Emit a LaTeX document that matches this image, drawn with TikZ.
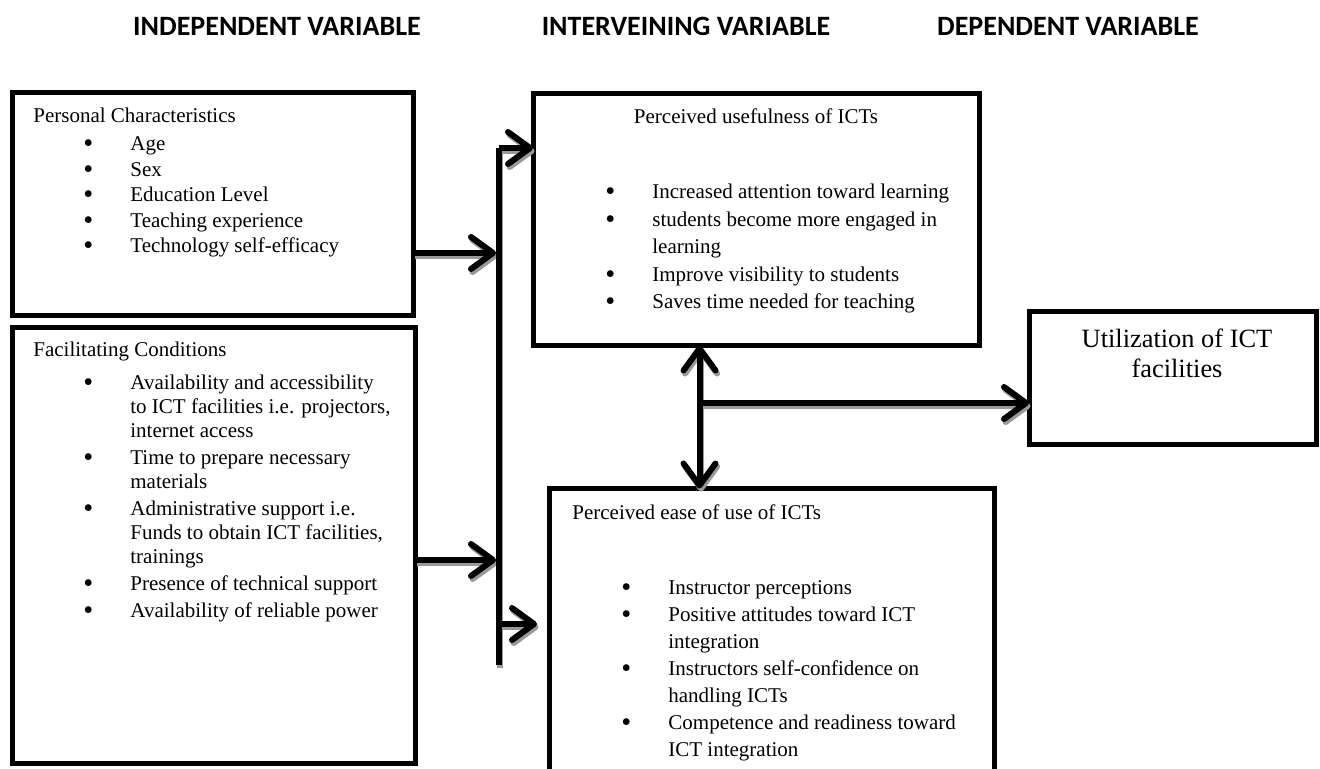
\documentclass[tikz,border=0pt]{standalone}
\usepackage{fontspec}
\setmainfont{Liberation Serif}
\newfontfamily\headfont{Carlito}
\usetikzlibrary{arrows.meta}
\newcommand{\bl}[1]{\makebox[23.5pt][l]{\raisebox{-1pt}{\scalebox{1.35}{\textbullet}}}#1}
\newcommand{\cl}[1]{\hspace*{23.5pt}#1}

\begin{document}
\begin{tikzpicture}[x=0.5pt, y=-0.5pt,
    box/.style={draw, line width=2.5pt, inner sep=0pt, outer sep=0pt},
    hd/.style={font=\headfont\bfseries\fontsize{14}{16}\selectfont, anchor=base, inner sep=0pt},
    txt/.style={font=\fontsize{10.5}{12.8}\selectfont, align=left, anchor=base west, inner sep=0pt},
    barln/.style={line width=3pt},
    arr/.style={line width=3pt, -{Straight Barb[length=11pt, width=16pt, round]}},
    darr/.style={line width=3pt, {Straight Barb[length=11pt, width=16pt, round]}-{Straight Barb[length=11pt, width=16pt, round]}}]
    \useasboundingbox (0,0) rectangle (1320,769);
    \fill[white] (0,0) rectangle (1320,769);
    \clip (0,0) rectangle (1320,769);

    \node[hd] (h1) at (277,36) {INDEPENDENT VARIABLE};
    \node[hd] (h2) at (686,36) {INTERVEINING VARIABLE};
    \node[hd] (h3) at (1068,36) {DEPENDENT VARIABLE};

    \node[box, minimum width=200.25pt, minimum height=111.5pt] (pc) at (212.75,204) {};
    \node[box, minimum width=201.25pt, minimum height=217.9pt] (fc) at (213.75,545.4) {};
    \node[box, minimum width=223pt, minimum height=125.75pt] (pu) at (756,219.75) {};
    \node[box, minimum width=222.5pt, minimum height=165.75pt] (pe) at (771.5,654.25) {};
    \node[box, minimum width=143.5pt, minimum height=66.25pt] (ut) at (1172.5,378.25) {};

    % lists: base = last line
    \node[txt] (pc-t) at (33,123) {Personal Characteristics};
    \node[txt] (pc-l) at (83,253) {\bl{Age}\\\bl{Sex}\\\bl{Education Level}\\\bl{Teaching experience}\\\bl{Technology self-efficacy}};

    \node[txt] (fc-t) at (33,357) {Facilitating Conditions};
    \node[txt, font=\fontsize{10.5}{12}\selectfont] (fc-l) at (83,617) {\bl{Availability and accessibility}\\\cl{to ICT facilities i.e. projectors,}\\\cl{internet access}\\[1.5pt]
        \bl{Time to prepare necessary}\\\cl{materials}\\[1.5pt]
        \bl{Administrative support i.e.}\\\cl{Funds to obtain ICT facilities,}\\\cl{trainings}\\[1.5pt]
        \bl{Presence of technical support}\\[1.5pt]\bl{Availability of reliable power}};

    \node[txt, anchor=base] (pu-t) at (756,124) {Perceived usefulness of ICTs};
    \node[txt, font=\fontsize{10.5}{13.75}\selectfont] (pu-l) at (605,309) {\bl{Increased attention toward learning}\\\bl{students become more engaged in}\\\cl{learning}\\
        \bl{Improve visibility to students}\\\bl{Saves time needed for teaching}};

    \node[txt] (pe-t) at (572,519) {Perceived ease of use of ICTs};
    \node[txt, font=\fontsize{10.5}{13.5}\selectfont] (pe-l) at (621,756) {\bl{Instructor perceptions}\\\bl{Positive attitudes toward ICT}\\\cl{integration}\\
        \bl{Instructors self-confidence on}\\\cl{handling ICTs}\\\bl{Competence and readiness toward}\\\cl{ICT integration}};

    \node[txt, align=center, anchor=base, font=\fontsize{13.2}{15}\selectfont] (ut-t) at (1177,378) {Utilization of ICT\\facilities};

    \coordinate (bt) at (498.5,148); \coordinate (bb) at (498.5,665);
    \coordinate (j1) at (496,253); \coordinate (j2) at (496,560); \coordinate (j3) at (537,624); \coordinate (j4) at (699.5,403);
    \def\conns{
        \draw[barln] (bt) -- (bb);
        \draw[arr] (pc.east |- j1) -- (j1);
        \draw[arr] (fc.east |- j2) -- (j2);
        \draw[arr] (bt) -- (pu.west |- bt);
        \draw[arr] (bb |- j3) -- (j3);
        \draw[darr] (pu.south -| j4) -- (pe.north -| j4);
        \draw[arr] (j4) -- (ut.west |- j4);
    }
    \begin{scope}[transform canvas={shift={(0.8pt,-1.5pt)}}, black!40]
        \conns
    \end{scope}
    \conns
\end{tikzpicture}
\end{document}
